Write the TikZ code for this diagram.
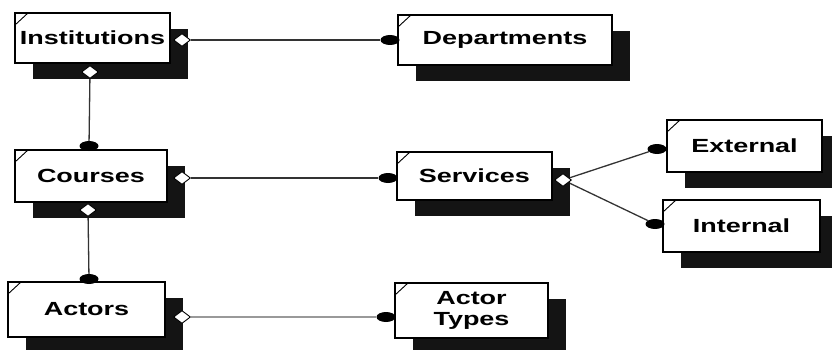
\documentclass[tikz,border=0pt]{standalone}
\usepackage{fontspec}
\newfontfamily\lblfont{Liberation Sans}[FakeStretch=1.42]
\usetikzlibrary{shapes.geometric,shadows,backgrounds}

\tikzset{
  entity/.style={draw=black, line width=1.3pt, fill=white, inner sep=0pt,
    font=\lblfont\bfseries\fontsize{19}{23}\selectfont, align=center,
    drop shadow={shadow xshift=18pt, shadow yshift=-16pt, fill=black!92, opacity=1},
    path picture={\draw[line width=0.9pt] ([yshift=-12pt]path picture bounding box.north west) -- ++(13pt,12pt);}},
  owner/.style={diamond, draw=black, line width=0.9pt, fill=white, inner sep=0pt,
    minimum width=17pt, minimum height=13pt},
  member/.style={ellipse, fill=black, inner sep=0pt, minimum width=19pt, minimum height=10pt},
  link/.style={draw=black!80, line width=1.3pt},
  softlink/.style={draw=black!40, line width=1.3pt}
}

\begin{document}
\begin{tikzpicture}[x=1pt, y=-1pt]
  \useasboundingbox (0,0) rectangle (832,350);

  % entity boxes
  \node[entity, minimum width=155pt, minimum height=50pt] (inst) at (92.5,38) {Institutions};
  \node[entity, minimum width=214pt, minimum height=50pt] (dept) at (505,40) {Departments};
  \node[entity, minimum width=152pt, minimum height=52pt] (cour) at (91,176) {Courses};
  \node[entity, minimum width=155pt, minimum height=48pt] (serv) at (474.5,176) {Services};
  \node[entity, minimum width=155pt, minimum height=52pt] (ext) at (744.5,146) {External};
  \node[entity, minimum width=157pt, minimum height=52pt] (intl) at (741.5,226) {Internal};
  \node[entity, minimum width=157pt, minimum height=55pt] (act) at (86.5,309.5) {Actors};
  \node[entity, minimum width=153pt, minimum height=55pt] (atyp) at (471.5,310.5) {Actor\\[-2pt]Types};

  % owning ends (open diamonds)
  \node[owner] (inst-r) at (182,40) {};
  \node[owner] (inst-b) at (90,72) {};
  \node[owner] (cour-r) at (182,178) {};
  \node[owner] (cour-b) at (88,210) {};
  \node[owner] (serv-r) at (563,180) {};
  \node[owner] (act-r) at (182,317) {};

  % member ends (filled blobs)
  \node[member] (dept-l) at (390,40) {};
  \node[member] (cour-t) at (89,146) {};
  \node[member] (serv-l) at (388,178) {};
  \node[member] (ext-l) at (657,149) {};
  \node[member] (intl-l) at (655,224) {};
  \node[member] (act-t) at (89,279) {};
  \node[member] (atyp-l) at (386,317) {};

  % relationships
  \begin{scope}[on background layer]
    \draw[link] (inst-r) -- (dept-l);
    \draw[link] (inst-b) -- (cour-t);
    \draw[link] (cour-r) -- (serv-l);
    \draw[link] (cour-b) -- (act-t);
    \draw[link] (serv-r) -- (ext-l);
    \draw[link] (serv-r) -- (intl-l);
    \draw[softlink] (act-r) -- (atyp-l);
  \end{scope}
\end{tikzpicture}
\end{document}
